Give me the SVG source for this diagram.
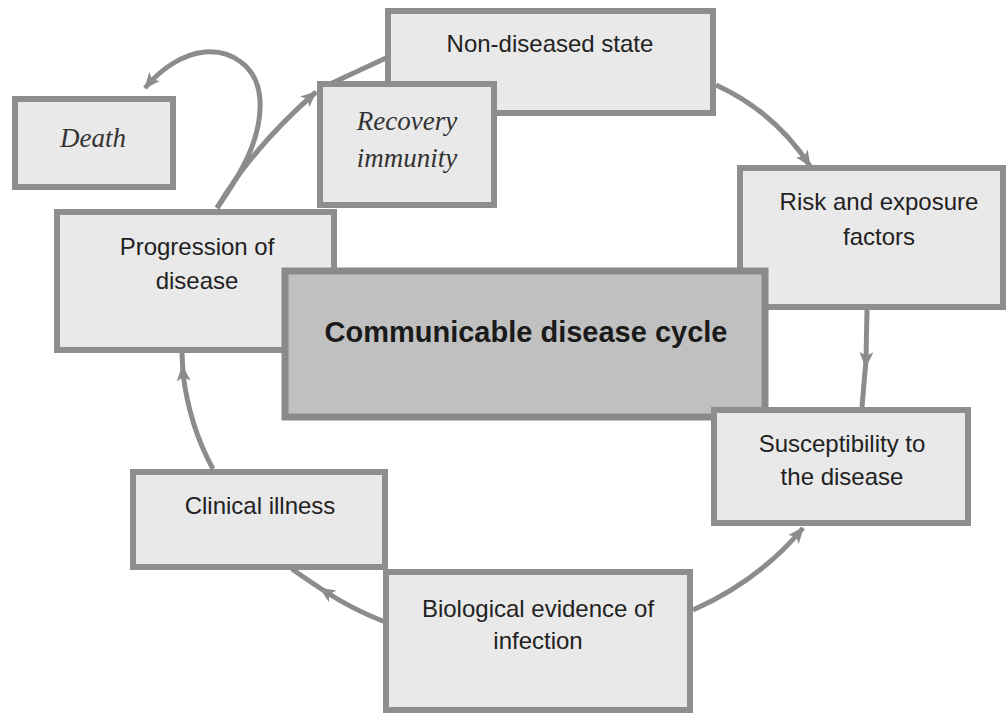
<svg xmlns="http://www.w3.org/2000/svg" width="1008" height="715" viewBox="0 0 1008 715">
<style>
.box{fill:#e9e9e9;stroke:#8e8e8e;stroke-width:6}
.core{fill:#c0c0c0;stroke:#8a8a8a;stroke-width:7}
.t{font-family:"Liberation Sans",Arial,sans-serif;font-size:24px;fill:#222;text-anchor:middle}
.ti{font-family:"Liberation Serif","Times New Roman",serif;font-style:italic;font-size:27px;fill:#333;text-anchor:middle}
.tb{font-family:"Liberation Sans",Arial,sans-serif;font-weight:bold;font-size:29px;fill:#1a1a1a;text-anchor:middle}
.c{fill:none;stroke:#8c8c8c;stroke-width:5}
</style>
<defs>
<marker id="ae" markerUnits="userSpaceOnUse" markerWidth="18" markerHeight="14" refX="15" refY="7" orient="auto">
<path d="M0,0 L16,7 L0,14 L4,7 z" fill="#8c8c8c"/>
</marker>
<marker id="am" markerUnits="userSpaceOnUse" markerWidth="18" markerHeight="14" refX="8" refY="7" orient="auto">
<path d="M0,0 L16,7 L0,14 L4,7 z" fill="#8c8c8c"/>
</marker>
</defs>
<rect width="1008" height="715" fill="#ffffff"/>
<g id="connectors">
<path class="c" d="M716,85 Q775,112 810,166" marker-end="url(#ae)"/>
<path class="c" d="M867,310 L866,360 L862,407" marker-mid="url(#am)"/>
<path class="c" d="M693,610 Q760,580 803,528" marker-end="url(#ae)"/>
<path class="c" d="M385,622 Q352,609 326,592 Q306,579 292,569" marker-mid="url(#am)"/>
<path class="c" d="M213,469 Q189,425 183,373 L182,353" marker-mid="url(#am)"/>
<path class="c" d="M217,208 C240,175 262,140 260,100 C258,65 230,50 205,52 C182,54 160,70 145,88" marker-end="url(#ae)"/>
<path class="c" d="M217,208 Q252,148 316,92" marker-end="url(#ae)"/>
<path class="c" d="M330,84 L386,58"/>
</g>
<g id="non-diseased">
<rect class="box" x="388" y="11" width="325" height="102"/>
<text class="t" x="550" y="52">Non-diseased state</text>
</g>
<g id="recovery">
<rect class="box" x="320" y="84" width="174" height="121"/>
<text class="ti" x="407" y="130">Recovery</text>
<text class="ti" x="407" y="167">immunity</text>
</g>
<g id="death">
<rect class="box" x="15" y="99" width="158" height="88"/>
<text class="ti" x="93" y="147">Death</text>
</g>
<g id="progression">
<rect class="box" x="57" y="212" width="277" height="138"/>
<text class="t" x="197" y="255">Progression of</text>
<text class="t" x="197" y="289">disease</text>
</g>
<g id="risk">
<rect class="box" x="740" y="168" width="263" height="139"/>
<text class="t" x="879" y="210">Risk and exposure</text>
<text class="t" x="879" y="245">factors</text>
</g>
<g id="center">
<rect class="core" x="285" y="271" width="480" height="146"/>
<text class="tb" x="526" y="342">Communicable disease cycle</text>
</g>
<g id="susceptibility">
<rect class="box" x="714" y="410" width="254" height="113"/>
<text class="t" x="842" y="452">Susceptibility to</text>
<text class="t" x="842" y="485">the disease</text>
</g>
<g id="clinical">
<rect class="box" x="133" y="472" width="252" height="95"/>
<text class="t" x="260" y="514">Clinical illness</text>
</g>
<g id="biological">
<rect class="box" x="386" y="572" width="304" height="138"/>
<text class="t" x="538" y="617">Biological evidence of</text>
<text class="t" x="538" y="649">infection</text>
</g>
</svg>
